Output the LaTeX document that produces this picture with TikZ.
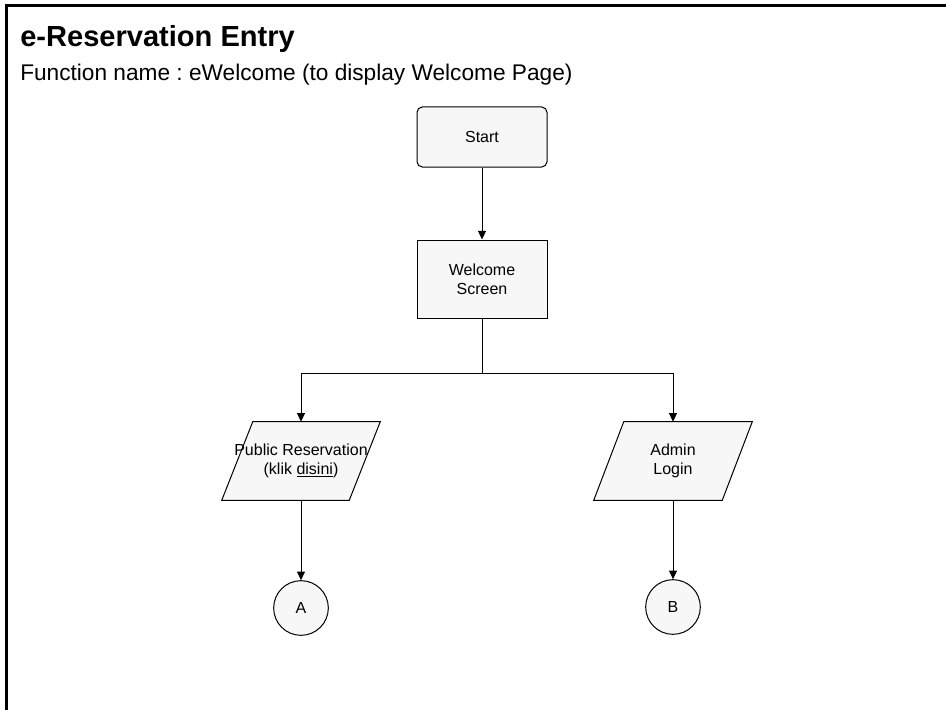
\documentclass[tikz,border=0pt]{standalone}
\usepackage{fontspec}
\setmainfont{Liberation Sans}
\usetikzlibrary{arrows.meta,calc,shapes.geometric}
\definecolor{shapefill}{HTML}{F7F7F7}
\frenchspacing
\tikzset{
  box/.style={draw=black,line width=0.75pt,fill=shapefill,minimum width=97.5pt,align=center,font=\fontsize{12}{14}\selectfont,inner sep=0pt},
  iobox/.style={minimum width=118.5pt,minimum height=58.5pt,align=center,font=\fontsize{12}{14}\selectfont,inner sep=0pt},
  para/.style={draw=black,line width=0.75pt,fill=shapefill},
  conn/.style={draw=black,line width=0.75pt,fill=shapefill,circle,minimum size=41pt,inner sep=0pt,font=\fontsize{12}{14}\selectfont},
  arr/.style={line width=0.75pt,-{Triangle[length=6.5pt,width=6pt]}},
  ln/.style={line width=0.75pt}
}
\begin{document}
\begin{tikzpicture}[x=0.75pt,y=-0.75pt]
\useasboundingbox (0,0) rectangle (946,710);
\draw[line width=2.25pt] (6,710) -- (6,5.5) -- (946,5.5);
\node[anchor=base west,font=\fontsize{21.8}{24}\selectfont\bfseries,inner sep=0pt] (title) at (20,47) {e-Reservation Entry};
\node[anchor=base west,font=\fontsize{17}{20}\selectfont,inner sep=0pt] (sub) at (20,80) {Function name : eWelcome (to display Welcome Page)};
\node[box,minimum height=45pt,rounded corners=4pt] (start) at (482,137) {Start};
\node[box,minimum height=58.5pt] (wel) at (482,279) {Welcome\\Screen};
\node[iobox] (pub) at (301,461) {};
\node[iobox] (adm) at (673,461) {};
\draw[para] ($(pub.north west)+(31,0)$) -- (pub.north east) -- ($(pub.south east)-(31,0)$) -- (pub.south west) -- cycle;
\draw[para] ($(adm.north west)+(30,0)$) -- (adm.north east) -- ($(adm.south east)-(30,0)$) -- (adm.south west) -- cycle;
\node[iobox] at (pub.center) {Public Reservation\\(klik \underline{disini})};
\node[iobox] at (adm.center) {Admin\\Login};
\node[conn] (A) at (301,608) {A};
\node[conn] (B) at (673,607) {B};
\coordinate (j) at (482,373);
\draw[arr] (start) -- (wel);
\draw[ln] (wel.south) -- (j);
\draw[arr] (j) -| (pub.north);
\draw[arr] (j) -| (adm.north);
\draw[arr] (pub.south) -- (A);
\draw[arr] (adm.south) -- (B);
\end{tikzpicture}
\end{document}
